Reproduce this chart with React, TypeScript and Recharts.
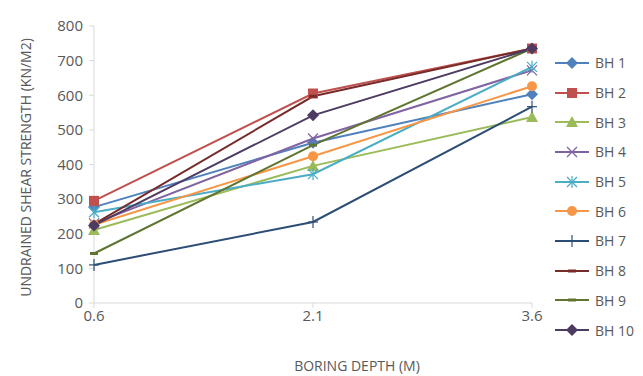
import { LineChart, Line, XAxis, YAxis } from "recharts"

const depths = [0.6, 2.1, 3.6]
const names = ["BH 1", "BH 2", "BH 3", "BH 4", "BH 5", "BH 6", "BH 7", "BH 8", "BH 9", "BH 10"]
const bh1 = [277, 463, 603]
const bh2 = [295, 605, 735]
const bh3 = [211, 396, 537]
const bh4 = [230, 475, 672]
const bh5 = [262, 372, 682]
const bh6 = [226, 424, 626]
const bh7 = [110, 234, 567]
const bh8 = [228, 597, 735]
const bh9 = [143, 456, 735]
const bh10 = [224, 542, 735]
const yTicks = [0, 100, 200, 300, 400, 500, 600, 700, 800]

const series = [bh1, bh2, bh3, bh4, bh5, bh6, bh7, bh8, bh9, bh10]
const colors = ["#4F81BD", "#C0504D", "#9BBB59", "#8064A2", "#4BACC6", "#F79646", "#2C4D75", "#772C2A", "#5F7530", "#4D3B62"]
const shapes = ["diamond", "square", "triangle", "x", "star", "circle", "plus", "dash", "dash", "diamond"]

const chartData = depths.map((d, i) => {
  const row: any = { depth: d }
  series.forEach((s, k) => {
    row["bh" + (k + 1)] = s[i]
  })
  return row
})

const FONT = "'Open Sans', sans-serif"
const FS = 15
const TXT = "#595959"

function Marker({ cx, cy, shape, color }: { cx: number; cy: number; shape: string; color: string }) {
  const r = 5
  switch (shape) {
    case "diamond":
      return <polygon points={`${cx},${cy - r - 1} ${cx + r + 1},${cy} ${cx},${cy + r + 1} ${cx - r - 1},${cy}`} fill={color} />
    case "square":
      return <rect x={cx - r} y={cy - r} width={r * 2} height={r * 2} fill={color} />
    case "triangle":
      return <polygon points={`${cx},${cy - r - 1} ${cx + r + 1},${cy + r} ${cx - r - 1},${cy + r}`} fill={color} />
    case "x":
      return (
        <g stroke={color} strokeWidth={1.2}>
          <line x1={cx - r} y1={cy - r} x2={cx + r} y2={cy + r} />
          <line x1={cx - r} y1={cy + r} x2={cx + r} y2={cy - r} />
        </g>
      )
    case "star":
      return (
        <g stroke={color} strokeWidth={1.2}>
          <line x1={cx - r} y1={cy - r} x2={cx + r} y2={cy + r} />
          <line x1={cx - r} y1={cy + r} x2={cx + r} y2={cy - r} />
          <line x1={cx} y1={cy - r - 1} x2={cx} y2={cy + r + 1} />
        </g>
      )
    case "circle":
      return <circle cx={cx} cy={cy} r={r} fill={color} />
    case "plus":
      return (
        <g stroke={color} strokeWidth={1.2}>
          <line x1={cx - r} y1={cy} x2={cx + r} y2={cy} />
          <line x1={cx} y1={cy - r - 1} x2={cx} y2={cy + r + 1} />
        </g>
      )
    default:
      return <rect x={cx - 4} y={cy - 1.5} width={8} height={3} fill={color} />
  }
}

// y axis title, centred on the axis like Excel does it
const yTitle = (props: any) => {
  const vb = props.viewBox
  const x = 25
  const y = vb.y + vb.height / 2 + 3
  return (
    <text x={x} y={y} transform={`rotate(-90, ${x}, ${y})`} textAnchor="middle" dominantBaseline="central" fill={TXT} fontSize={FS - 1} fontFamily={FONT}>
      UNDRAINED SHEAR STRENGTH (KN/M2)
    </text>
  )
}

export default function App() {
  return (
    <div style={{ position: "absolute", left: 0, top: 0, width: 643, height: 376, background: "#fff", fontFamily: FONT }}>
      <LineChart width={643} height={376} data={chartData} margin={{ top: 26, right: 111, left: 0, bottom: 0 }}>
        <XAxis
          dataKey="depth"
          type="number"
          domain={[0.6, 3.6]}
          ticks={depths}
          tickFormatter={(v: number) => v.toFixed(1)}
          height={73}
          stroke="#D9D9D9"
          tick={{ fill: TXT, fontSize: FS, fontFamily: FONT }}
          tickSize={5}
          label={{ value: "BORING DEPTH (M)", position: "insideBottom", offset: 5, dx: 44, fill: TXT, fontSize: FS - 1, fontFamily: FONT }}
        />
        <YAxis
          type="number"
          domain={[0, 800]}
          ticks={yTicks}
          width={94}
          stroke="#D9D9D9"
          tick={{ fill: TXT, fontSize: FS, fontFamily: FONT }}
          tickSize={5}
          tickMargin={6}
          label={yTitle}
        />
        {series.map((_, k) => (
          <Line
            key={names[k]}
            type="linear"
            dataKey={"bh" + (k + 1)}
            name={names[k]}
            stroke={colors[k]}
            strokeWidth={2}
            isAnimationActive={false}
            dot={(p: any) => <Marker key={p.index} cx={p.cx} cy={p.cy} shape={shapes[k]} color={colors[k]} />}
            activeDot={false}
          />
        ))}
      </LineChart>
      <div style={{ position: "absolute", left: 554, top: 48 }}>
        {names.map((n, k) => (
          <div key={n} style={{ display: "flex", alignItems: "center", height: 29.7 }}>
            <svg width={36} height={14}>
              <line x1={1} y1={7} x2={35} y2={7} stroke={colors[k]} strokeWidth={2} />
              <Marker cx={18} cy={7} shape={shapes[k]} color={colors[k]} />
            </svg>
            <span style={{ marginLeft: 5, fontSize: FS - 1, color: TXT }}>{n}</span>
          </div>
        ))}
      </div>
    </div>
  )
}
